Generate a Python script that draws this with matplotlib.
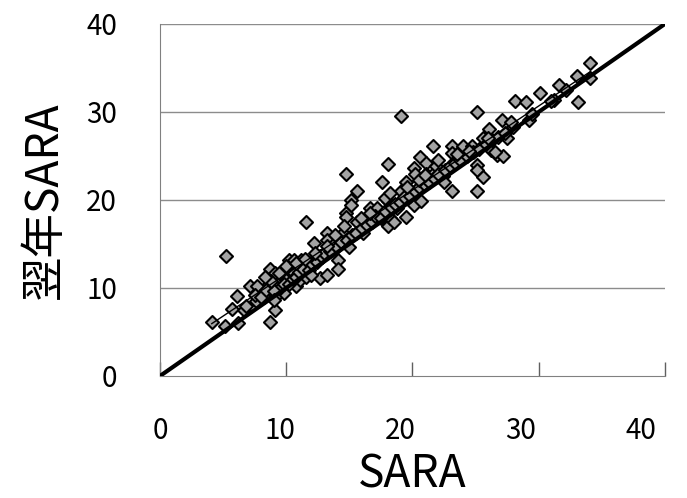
import matplotlib
matplotlib.use('Agg')
import matplotlib.pyplot as plt
import numpy as np

plt.rcParams['font.family'] = ['Noto Sans CJK JP', 'DejaVu Sans']

# scattered points
x_pts = [4.1, 5.15, 5.2, 5.7, 6.1, 6.2, 6.65, 7.1, 7.6, 7.7, 8.2, 8.6, 8.7, 8.7,
         9.1, 9.1, 9.1, 9.2, 9.8, 10.0, 10.2, 10.6, 10.6, 10.8, 11.2, 11.1, 11.6,
         11.6, 11.6, 12.2, 12.7, 12.7, 13.2, 13.2, 13.2, 13.6, 14.1, 14.1, 14.5,
         14.7, 14.7, 14.7, 15.1, 15.1, 15.6, 15.6, 16.1, 16.6, 17.2, 17.6, 18.1,
         18.1, 18.1, 18.2, 18.8, 19.1, 19.1, 19.5, 19.5, 20.1, 20.1, 20.2, 20.6,
         20.7, 21.1, 21.1, 21.6, 21.6, 21.9, 22.4, 23.1, 23.1, 23.1, 23.5, 24.0,
         24.7, 25.1, 25.1, 25.1, 25.1, 25.6, 25.6, 26.1, 26.2, 26.7, 27.1, 27.2,
         27.5, 28.1, 29.0, 29.2, 30.1, 31.2, 31.6, 33.0, 33.1, 34.1, 34.1]
y_pts = [6.1, 5.7, 13.6, 7.6, 9.1, 6.0, 7.5, 10.2, 8.5, 10.2, 9.0, 10.5, 12.1, 6.1,
         11.7, 10.2, 7.5, 9.1, 9.4, 10.9, 13.2, 13.2, 11.7, 10.2, 13.2, 10.9, 13.2,
         17.5, 11.3, 15.1, 13.6, 11.1, 16.2, 15.5, 11.5, 14.3, 13.2, 12.1, 16.2,
         23.0, 18.5, 18.1, 20.0, 19.4, 17.5, 21.0, 16.2, 19.1, 19.1, 22.0, 24.1,
         19.9, 17.0, 18.0, 19.1, 29.5, 21.0, 18.1, 22.0, 23.6, 19.4, 23.0, 24.9,
         19.9, 24.2, 23.0, 26.1, 23.0, 23.8, 22.7, 26.1, 25.3, 21.0, 24.6, 26.1,
         26.1, 30.0, 24.0, 23.4, 21.0, 22.6, 27.0, 28.1, 25.7, 25.1, 29.1, 25.0,
         27.0, 31.2, 31.1, 29.1, 32.1, 31.4, 33.1, 34.1, 31.1, 35.6, 33.9]

# points packed along the diagonal band
x_band = [9.5, 9.8, 10.2, 10.5, 10.8, 11.0, 11.3, 11.8, 12.0, 12.4, 12.8, 13.0, 13.5,
          13.8, 14.0, 14.3, 14.8, 15.2, 15.5, 16.0, 16.4, 16.8, 17.0, 17.5, 17.8,
          18.3, 18.6, 19.0, 19.3, 19.8, 20.2, 20.5, 20.9, 21.3, 21.7, 22.0, 22.6,
          23.0, 23.4, 23.8, 24.3, 24.8, 25.3, 25.8, 26.3, 26.8, 27.3, 28.0, 29.5,
          31.0, 32.2, 6.8, 7.5, 8.0, 8.4, 9.0, 8.8, 8.3, 9.4, 10.0, 10.8, 11.5,
          12.3, 13.2, 13.9, 14.6, 15.9, 16.6, 17.8, 18.2, 19.6, 20.5, 21.0, 22.0,
          23.5, 24.5, 26.0, 27.8, 9.0, 12.0, 15.0, 18.5, 22.5, 26.5]
y_band = [10.0, 10.5, 10.4, 11.0, 11.2, 11.8, 12.2, 12.0, 12.8, 13.0, 13.5, 14.0, 14.2,
          15.0, 14.6, 15.2, 15.5, 16.0, 16.3, 16.8, 17.2, 17.5, 18.2, 18.0, 18.8,
          19.2, 19.5, 19.8, 20.3, 20.5, 21.0, 21.5, 21.8, 22.0, 22.5, 23.0, 23.4,
          23.8, 24.2, 24.5, 25.0, 25.5, 25.8, 26.3, 26.8, 27.2, 27.6, 28.3, 29.8,
          31.2, 32.5, 8.0, 9.2, 9.0, 9.8, 9.6, 10.8, 11.2, 11.7, 12.5, 12.8, 13.3,
          14.0, 14.8, 16.0, 17.0, 18.0, 18.5, 20.2, 20.8, 21.5, 22.3, 22.8, 24.5,
          25.2, 25.6, 27.0, 28.8, 8.6, 11.5, 14.6, 17.5, 22.0, 25.5]

ticks = [0, 10, 20, 30, 40]
tick_labels = ['0', '10', '20', '30', '40']

x = np.array(x_pts + x_band)
y = np.array(y_pts + y_band)

fig = plt.figure(figsize=(6.87, 4.98), dpi=100)
ax = fig.add_axes([0.2329, 0.245, 0.735, 0.707])

ax.set_xlim(0, 40)
ax.set_ylim(0, 40)

for g in ticks[1:]:
    ax.axhline(g, color='#8c8c8c', lw=1.0, zorder=0)

ax.scatter(x, y, marker='D', s=44, facecolor='#a3a3a3', edgecolor='black',
           linewidths=1.5, zorder=2)

# trend line
k, b = np.polyfit(x, y, 1)
xr = np.array([x.min(), x.max()])
ax.plot(xr, k * xr + b, color='black', lw=1.0, zorder=3)

# y = x
ax.plot([0, 40], [0, 40], color='black', lw=3, zorder=4)

for s in ['top', 'right']:
    ax.spines[s].set_visible(False)
ax.spines['left'].set_color('#808080')
ax.spines['bottom'].set_color('#808080')

# tick marks on the data scale, labels sit a bit to the left as in the original
ax.xaxis.remove_overlapping_locs = False
ax.set_xticks(ticks)
ax.set_xticklabels([])
ax.set_xticks([t * 0.952 for t in ticks], minor=True)
ax.set_xticklabels(tick_labels, minor=True)
ax.tick_params(axis='x', which='major', direction='in', length=10, width=1,
               color='#606060')
ax.tick_params(axis='x', which='minor', length=0, labelsize=20, pad=29)
ax.set_yticks(ticks)
ax.set_yticklabels(tick_labels)
ax.tick_params(axis='y', length=0, labelsize=20, pad=31)

ax.set_xlabel('SARA', fontsize=32, labelpad=4)
ax.set_ylabel('翌年SARA', fontsize=32, labelpad=14)

fig.savefig('out.png', dpi=100)
